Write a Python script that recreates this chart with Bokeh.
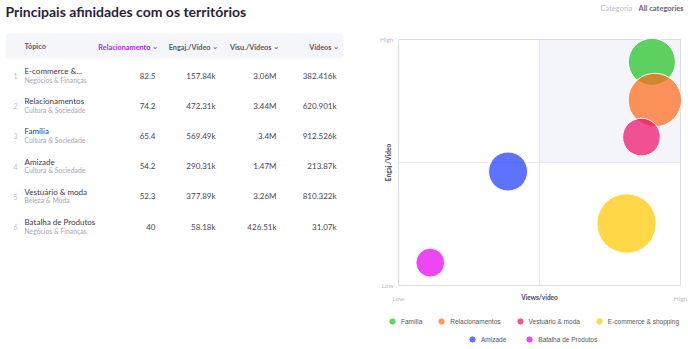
import math
from bokeh.plotting import figure
from bokeh.models import Range1d, BoxAnnotation, Legend, LegendItem, ColumnDataSource
from bokeh.core.properties import value
from bokeh.embed import file_html
from bokeh.resources import INLINE

# ---------------- data ----------------
title = "Principais afinidades com os territórios"
headers = ["Relacionamento", "Engaj./Vídeo", "Visu./Vídeos", "Vídeos"]
topics = ["E-commerce &...", "Relacionamentos", "Família", "Amizade", "Vestuário & moda", "Batalha de Produtos"]
topic_categories = ["Negócios & Finanças", "Cultura & Sociedade", "Cultura & Sociedade",
                    "Cultura & Sociedade", "Beleza & Moda", "Negócios & Finanças"]
relac_labels = ["82.5", "74.2", "65.4", "54.2", "52.3", "40"]
engaj_labels = ["157.84k", "472.31k", "569.49k", "290.31k", "377.89k", "58.18k"]
visu_labels = ["3.06M", "3.44M", "3.4M", "1.47M", "3.26M", "426.51k"]
videos_labels = ["382.416k", "620.901k", "912.526k", "213.87k", "810.322k", "31.07k"]

bubble_names = ["Família", "Relacionamentos", "Vestuário & moda", "E-commerce & shopping",
                "Amizade", "Batalha de Produtos"]
bubble_views = [3.40, 3.44, 3.26, 3.06, 1.47, 0.42651]          # views / video (M)
bubble_engaj = [569.49, 472.31, 377.89, 157.84, 290.31, 58.18]  # engaj / video (k)
bubble_relac = [65.4, 74.2, 52.3, 82.5, 54.2, 40.0]             # relacionamento (size)
bubble_colors = ["#22c322", "#ff6a1a", "#f0116b", "#ffc800", "#1f3bff", "#e600f0"]
axis_ends = ["Low", "High"]

FONT = "Lato"
W, H = 688, 349
FL, FR, FT, FB = 398, 680, 39, 285   # plot area of the bubble chart (page pixels)

# page-space figure: x to the right, y downwards, in pixels
p = figure(width=W, height=H, x_range=Range1d(0, W), y_range=Range1d(H, 0),
           output_backend="svg", toolbar_location=None, x_axis_type=None, y_axis_type=None,
           min_border=0, outline_line_color=None, border_fill_color="white",
           background_fill_color="white")


def texts(target, xs, ys, labels, size, color, bold=False, align="left", font=FONT, **kw):
    target.text(x=xs, y=ys, text=labels, text_font=value(font), text_font_size=size,
                text_color=color, text_font_style="bold" if bold else "normal",
                text_align=align, text_baseline="middle", **kw)


# ---------------- header texts ----------------
texts(p, [5], [11], [title], "14px", "#2a1d3d", bold=True)
texts(p, [600], [8], ["Categoria"], "7.5px", "#c0bdc9")
texts(p, [638], [8], ["All categories"], "7.5px", "#6a6478", bold=True)

# ---------------- table ----------------
p.add_layout(BoxAnnotation(left=5, right=343, top=33, bottom=58, fill_color="#f5f6fa",
                           fill_alpha=1, line_color=None, border_radius=4, level="underlay"))
col_right = [157, 217, 278, 338]
texts(p, [24], [46], ["Tópico"], "7.3px", "#5b556e", bold=True)
texts(p, [col_right[0] - 7], [46.5], headers[:1], "7.3px", "#a030e8", bold=True, align="right")
texts(p, [c - 7 for c in col_right[1:]], [46.5] * 3, headers[1:], "7.3px", "#5b556e", bold=True,
      align="right")
texts(p, [col_right[0] - 2.5], [45.5], ["⌄"], "8px", "#a030e8", align="center", font="DejaVu Sans")
texts(p, [c - 2.5 for c in col_right[1:]], [45.5] * 3, ["⌄"] * 3, "8px", "#5b556e", align="center",
      font="DejaVu Sans")

row_y = [75 + 30.2 * i for i in range(len(topics))]
texts(p, [15] * 6, [y + 0.5 for y in row_y], [str(i + 1) for i in range(6)], "7px", "#c0bdc9",
      align="center")
texts(p, [24] * 6, [y - 4.5 for y in row_y], topics, "8px", "#3d3550")
texts(p, [24] * 6, [y + 4 for y in row_y], topic_categories, "6.8px", "#aaa6b6")
for c, labels in zip(col_right, [relac_labels, engaj_labels, visu_labels, videos_labels]):
    texts(p, [c - 2] * 6, row_y, labels, "8px", "#4a4458", align="right")

# ---------------- bubble chart (own data scales mapped into its plot area) ----------------
xmax = max(bubble_views) * 1.1
ymax = max(bubble_engaj) * 1.1
sub = p.subplot(x_source=Range1d(0, xmax), y_source=Range1d(0, ymax),
                x_target=Range1d(FL, FR), y_target=Range1d(FB, FT))

sub.quad(left=[xmax / 2], right=[xmax], bottom=[ymax / 2], top=[ymax], fill_color="#f4f5fa",
         line_color=None)
sub.segment(x0=[xmax / 2, 0], y0=[0, ymax / 2], x1=[xmax / 2, xmax], y1=[ymax, ymax / 2],
            line_color="#e8e8f0", line_width=1)
sub.quad(left=[0], right=[xmax], bottom=[0], top=[ymax], fill_color=None,
         line_color="#dcdce6", line_width=1)

src = ColumnDataSource(dict(x=bubble_views, y=bubble_engaj, size=[v * 0.72 for v in bubble_relac],
                            color=bubble_colors, name=bubble_names))
r = sub.scatter("x", "y", size="size", source=src, fill_color="color", fill_alpha=0.72,
                line_color="white", line_width=1)

# axis end labels and axis titles
texts(sub, [0, xmax], [0, 0], axis_ends, "6.5px", "#c0bdc9", align="center", y_offset=13)
texts(sub, [0, 0], [0, ymax], axis_ends, "6.5px", "#c0bdc9", align="right", x_offset=-5)
texts(sub, [xmax / 2], [0], ["Views/video"], "6.5px", "#4a4458", bold=True, align="center",
      y_offset=12)
texts(sub, [0], [ymax / 2], ["Engaj./Video"], "6.5px", "#4a4458", bold=True, align="center",
      x_offset=-10, angle=math.pi / 2)

# ---------------- legend (two centred rows) ----------------
items = [LegendItem(label=n, renderers=[r], index=i) for i, n in enumerate(bubble_names)]
for its, (lx, ly), gap in ((items[:4], (383, 330), 10), (items[4:], (463, 348), 14)):
    lg = Legend(items=its, orientation="horizontal", location=(lx, H - ly), border_line_color=None,
                background_fill_alpha=0, padding=0, margin=0, spacing=gap,
                glyph_width=18, glyph_height=18, label_height=18, label_standoff=0,
                label_text_font="Liberation Sans", label_text_font_size="6.5px",
                label_text_color="#555555", label_text_baseline="middle")
    p.add_layout(lg)

open("out.html", "w").write(file_html(p, INLINE))
